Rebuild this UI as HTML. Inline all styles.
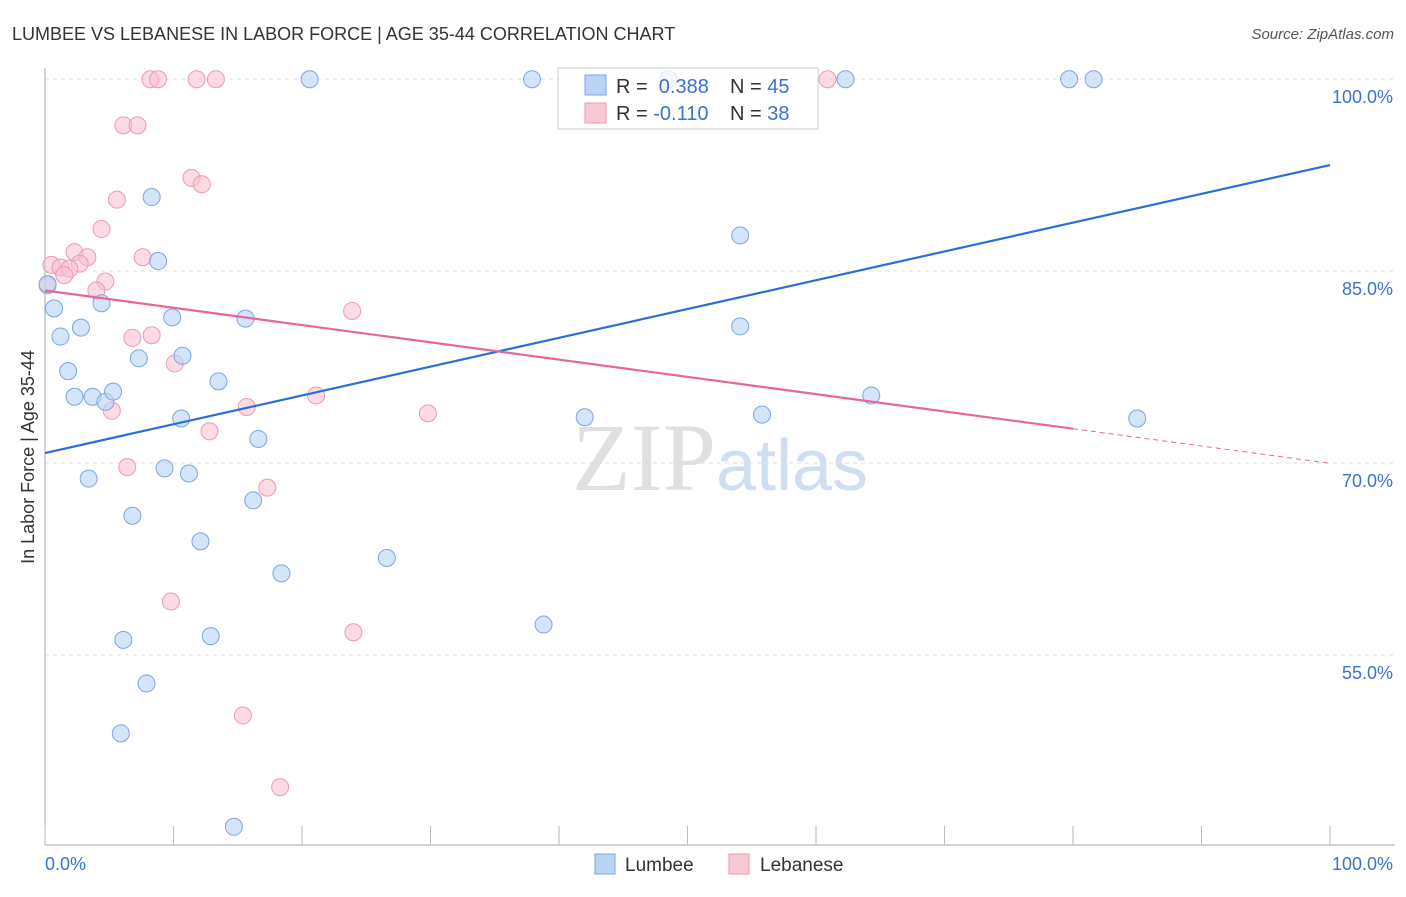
<!DOCTYPE html>
<html><head><meta charset="utf-8"><style>
body{margin:0;background:#fff;font-family:"Liberation Sans",sans-serif;}
svg text{font-family:"Liberation Sans",sans-serif;}
</style></head><body>
<svg id="chart" width="1406" height="892" viewBox="0 0 1406 892" xmlns="http://www.w3.org/2000/svg">
<text x="12" y="40" font-size="18" fill="#333">LUMBEE VS LEBANESE IN LABOR FORCE | AGE 35-44 CORRELATION CHART</text>
<text x="1394" y="39" font-size="15" fill="#555" text-anchor="end" font-style="italic">Source: ZipAtlas.com</text>
<text x="720" y="490" font-size="96" text-anchor="middle"><tspan fill="#e0e0e0" font-family="Liberation Serif">ZIP</tspan><tspan fill="#d0def2" font-size="72">atlas</tspan></text>
<g id="grid"></g>
<g id="axes"></g>
<g id="pinkpts"></g>
<g id="bluepts"></g>
<g id="trends"></g>
<text transform="translate(34,457) rotate(-90)" font-size="18" fill="#333" text-anchor="middle">In Labor Force | Age 35-44</text>
<g>
<rect x="558" y="68" width="260" height="61" fill="rgba(255,255,255,0.75)" stroke="#ccc"/>
<rect x="585" y="75" width="21" height="20" fill="#b9d3f5" stroke="#7aa6e0"/>
<rect x="585" y="103" width="21" height="20" fill="#fbc8d6" stroke="#ec9ab2"/>
<text x="616" y="93" font-size="20" fill="#333">R = <tspan fill="#3a73cf">&#160;0.388</tspan></text>
<text x="730" y="93" font-size="20" fill="#333">N = <tspan fill="#3a73cf">45</tspan></text>
<text x="616" y="120" font-size="20" fill="#333">R = <tspan fill="#3a73cf">-0.110</tspan></text>
<text x="730" y="120" font-size="20" fill="#333">N = <tspan fill="#3a73cf">38</tspan></text>
</g>
<g>
<rect x="595" y="854" width="20" height="20" fill="#b9d3f5" stroke="#7aa6e0"/>
<text x="625" y="871" font-size="19" fill="#333">Lumbee</text>
<rect x="729" y="854" width="20" height="20" fill="#fbc8d6" stroke="#ec9ab2"/>
<text x="760" y="871" font-size="19" fill="#333">Lebanese</text>
</g>
</svg>
<script>
const lumbeeX=[20.6,37.9,48.5,62.3,79.7,81.6,8.3,54.1,8.8,0.2,0.7,4.4,9.9,15.6,1.2,2.8,54.1,7.3,10.7,1.8,13.5,2.3,3.7,4.7,5.3,64.3,10.6,42.0,55.8,85.0,16.6,3.4,9.3,11.2,16.2,6.8,12.1,26.6,18.4,38.8,6.1,12.9,7.9,5.9,14.7];
const lumbeeY=[99.9,99.9,99.9,99.9,99.9,99.9,90.7,87.7,85.7,83.9,82.0,82.4,81.3,81.2,79.8,80.5,80.6,78.1,78.3,77.1,76.3,75.1,75.1,74.7,75.5,75.2,73.4,73.5,73.7,73.4,71.8,68.7,69.5,69.1,67.0,65.8,63.8,62.5,61.3,57.3,56.1,56.4,52.7,48.8,41.5];
const lebX=[8.2,8.8,11.8,13.3,60.9,6.1,7.2,11.4,12.2,5.6,4.4,7.6,2.3,3.3,2.7,0.5,1.2,1.9,1.5,4.7,4.0,0.2,23.9,6.8,8.3,10.1,21.1,15.7,5.2,29.8,12.8,6.4,17.3,9.8,24.0,15.4,18.3];
const lebY=[99.9,99.9,99.9,99.9,99.9,96.3,96.3,92.2,91.7,90.5,88.2,86.0,86.4,86.0,85.5,85.4,85.2,85.1,84.6,84.1,83.4,83.8,81.8,79.7,79.9,77.7,75.2,74.3,74.0,73.8,72.4,69.6,68.0,59.1,56.7,50.2,44.6];
const yTicks=[100,85,70,55];
const yTickLabels=["100.0%","85.0%","70.0%","55.0%"];
const xTicks=[0,10,20,30,40,50,60,70,80,90,100];
const lumbeeTrend=[70.7,93.2];
const lebTrend=[83.4,69.9];
const lebSolidEnd=80;
const NS="http://www.w3.org/2000/svg";
const sx=v=>45+v*12.85;
const sy=v=>78+(100-v)*12.8;
function mk(tag,attrs,parent){const e=document.createElementNS(NS,tag);for(const k in attrs)e.setAttribute(k,attrs[k]);parent.appendChild(e);return e;}
const grid=document.getElementById('grid'),axes=document.getElementById('axes');
yTicks.forEach((t,i)=>{
 const l=mk('line',{x1:45,x2:1395,y1:sy(t)+1,y2:sy(t)+1,stroke:'#ddd','stroke-dasharray':'4,4'},grid);
 
 
 const tx=mk('text',{x:1393,y:sy(t)+25,'font-size':18,fill:'#3a73cf','text-anchor':'end'},axes);
 tx.textContent=yTickLabels[i];
 
 
});
mk('line',{x1:45,x2:45,y1:68,y2:845,stroke:'#aaa'},axes);
mk('line',{x1:45,x2:1395,y1:845,y2:845,stroke:'#aaa'},axes);
xTicks.forEach(t=>{
 const l=mk('line',{x1:sx(t),x2:sx(t),y1:826,y2:845,stroke:'#bbb'},axes);
 
 
});
const x0=mk('text',{x:45,y:870,'font-size':18,fill:'#3a73cf'},axes);x0.textContent='0.0%';


const x1=mk('text',{x:1393,y:870,'font-size':18,fill:'#3a73cf','text-anchor':'end'},axes);x1.textContent='100.0%';


const pp=document.getElementById('pinkpts');
lebX.forEach((x,i)=>{const c=mk('circle',{cx:sx(x),cy:sy(lebY[i]),r:8.5,fill:'rgba(250,190,208,0.55)',stroke:'#ec9ab2','stroke-width':1},pp);
 
 });
const bp=document.getElementById('bluepts');
lumbeeX.forEach((x,i)=>{const c=mk('circle',{cx:sx(x),cy:sy(lumbeeY[i]),r:8.5,fill:'rgba(185,211,245,0.6)',stroke:'#7aa6e0','stroke-width':1},bp);
 
 });
const tr=document.getElementById('trends');
const b=mk('line',{x1:sx(0),y1:sy(lumbeeTrend[0]),x2:sx(100),y2:sy(lumbeeTrend[1]),stroke:'#2a6fd6','stroke-width':2.2},tr);


const lm=lebTrend[0]+(lebTrend[1]-lebTrend[0])*lebSolidEnd/100;
const p1=mk('line',{x1:sx(0),y1:sy(lebTrend[0]),x2:sx(lebSolidEnd),y2:sy(lm),stroke:'#e8669a','stroke-width':2.2},tr);


const p2=mk('line',{x1:sx(lebSolidEnd),y1:sy(lm),x2:sx(100),y2:sy(lebTrend[1]),stroke:'#e8669a','stroke-width':1,'stroke-dasharray':'5,4'},tr);


</script>
</body></html>
